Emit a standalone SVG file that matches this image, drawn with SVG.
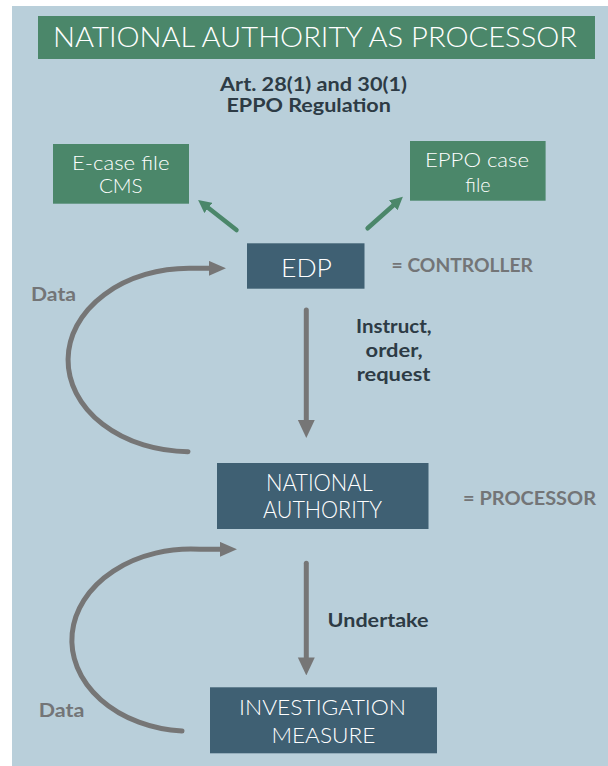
<svg xmlns="http://www.w3.org/2000/svg" width="608" height="766" viewBox="0 0 608 766">
  <style>
    .green { fill: #4b876a; }
    .blue { fill: #3f6073; }
    .wt { fill: #ffffff; font-family: Lato, "Open Sans", "Liberation Sans", sans-serif; font-weight: 300; }
    .bd { fill: #2d3b45; font-family: Lato, "Liberation Sans", sans-serif; font-weight: 700; font-size: 18.5px; }
    .gy { fill: #737577; font-family: Lato, "Liberation Sans", sans-serif; font-weight: 700; font-size: 18.5px; }
    .gshaft { fill: none; stroke: #767676; stroke-width: 5; stroke-linecap: round; }
    .grshaft { fill: none; stroke: #4b876a; stroke-width: 4.5; stroke-linecap: round; }
  </style>
  <defs>
    <marker id="grayHead" markerUnits="userSpaceOnUse" markerWidth="18" markerHeight="18" viewBox="0 0 17 16" refX="1" refY="8" orient="auto">
      <path d="M0,0 L17,8 L0,16 z" fill="#767676"/>
    </marker>
    <marker id="grayHeadC" markerUnits="userSpaceOnUse" markerWidth="17" markerHeight="15" viewBox="0 0 16 14" refX="1" refY="7" orient="auto">
      <path d="M0,0 L16,7 L0,14 z" fill="#767676"/>
    </marker>
    <marker id="greenHead" markerUnits="userSpaceOnUse" markerWidth="13" markerHeight="13" viewBox="0 0 12 12" refX="1" refY="6" orient="auto">
      <path d="M0,0 L12,6 L0,12 z" fill="#4b876a"/>
    </marker>
  </defs>

  <rect x="0" y="0" width="608" height="766" fill="#ffffff"/>
  <rect x="12" y="6" width="596" height="760" fill="#b9cfda"/>

  <g id="title">
    <rect class="green" x="38" y="16" width="557" height="43"/>
    <text class="wt" x="53" y="46.7" font-size="28" textLength="524" lengthAdjust="spacingAndGlyphs">NATIONAL AUTHORITY AS PROCESSOR</text>
  </g>

  <g id="subtitle">
    <text class="bd" x="220" y="91" textLength="187" lengthAdjust="spacingAndGlyphs">Art. 28(1) and 30(1)</text>
    <text class="bd" x="226.4" y="112" textLength="164.5" lengthAdjust="spacingAndGlyphs">EPPO Regulation</text>
  </g>

  <g id="connectors">
    <path class="grshaft" d="M236.5,230 L207.5,207.3" marker-end="url(#greenHead)"/>
    <path class="grshaft" d="M367.6,228.3 L394,204.7" marker-end="url(#greenHead)"/>
    <path class="gshaft" d="M306.3,310 L306.3,421" marker-end="url(#grayHead)"/>
    <path class="gshaft" d="M306.3,563.3 L306.3,658.5" marker-end="url(#grayHead)"/>
    <path class="gshaft" d="M188,451.7 A121,91.7 0 0 1 190,268.3 L210,268.3" marker-end="url(#grayHeadC)"/>
    <path class="gshaft" d="M182,731 A119,91 0 0 1 200,549.3 L221,549.3" marker-end="url(#grayHeadC)"/>
  </g>

  <g id="ecase">
    <rect class="green" x="53" y="144" width="136" height="59.7"/>
    <text class="wt" x="72" y="170" font-size="20" textLength="97.5" lengthAdjust="spacingAndGlyphs">E-case file</text>
    <text class="wt" x="98.9" y="193.3" font-size="20" textLength="43.8" lengthAdjust="spacingAndGlyphs">CMS</text>
  </g>

  <g id="eppo-case">
    <rect class="green" x="410" y="141" width="135.6" height="59.7"/>
    <text class="wt" x="425" y="166.7" font-size="20" textLength="104" lengthAdjust="spacingAndGlyphs">EPPO case</text>
    <text class="wt" x="465.3" y="191.7" font-size="20" textLength="25.2" lengthAdjust="spacingAndGlyphs">file</text>
  </g>

  <g id="edp">
    <rect class="blue" x="247" y="243.3" width="117.5" height="45.4"/>
    <text class="wt" x="281" y="276.7" font-size="25.5" textLength="51" lengthAdjust="spacingAndGlyphs">EDP</text>
  </g>
  <text class="gy" x="391.6" y="272.3" textLength="141.4" lengthAdjust="spacingAndGlyphs">= CONTROLLER</text>

  <text class="gy" x="31" y="300.7" textLength="45" lengthAdjust="spacingAndGlyphs">Data</text>

  <g id="instruct-label">
    <text class="bd" x="356" y="333.3" textLength="75.6" lengthAdjust="spacingAndGlyphs">Instruct,</text>
    <text class="bd" x="365.6" y="357" textLength="57" lengthAdjust="spacingAndGlyphs">order,</text>
    <text class="bd" x="356.7" y="380.7" textLength="73.7" lengthAdjust="spacingAndGlyphs">request</text>
  </g>

  <g id="national-authority">
    <rect class="blue" x="217" y="463" width="211.5" height="66"/>
    <text class="wt" x="266" y="490.7" font-size="22.5" textLength="106.7" lengthAdjust="spacingAndGlyphs">NATIONAL</text>
    <text class="wt" x="263" y="517.7" font-size="22.5" textLength="119" lengthAdjust="spacingAndGlyphs">AUTHORITY</text>
  </g>
  <text class="gy" x="463" y="505" textLength="133" lengthAdjust="spacingAndGlyphs">= PROCESSOR</text>

  <text class="bd" x="327.6" y="627.3" textLength="101" lengthAdjust="spacingAndGlyphs">Undertake</text>

  <g id="investigation-measure">
    <rect class="blue" x="210" y="687.3" width="227" height="66"/>
    <text class="wt" x="239" y="715" font-size="21.5" textLength="167" lengthAdjust="spacingAndGlyphs">INVESTIGATION</text>
    <text class="wt" x="271.4" y="743.3" font-size="21.5" textLength="104" lengthAdjust="spacingAndGlyphs">MEASURE</text>
  </g>

  <text class="gy" x="38.8" y="716.7" textLength="45.7" lengthAdjust="spacingAndGlyphs">Data</text>
</svg>
